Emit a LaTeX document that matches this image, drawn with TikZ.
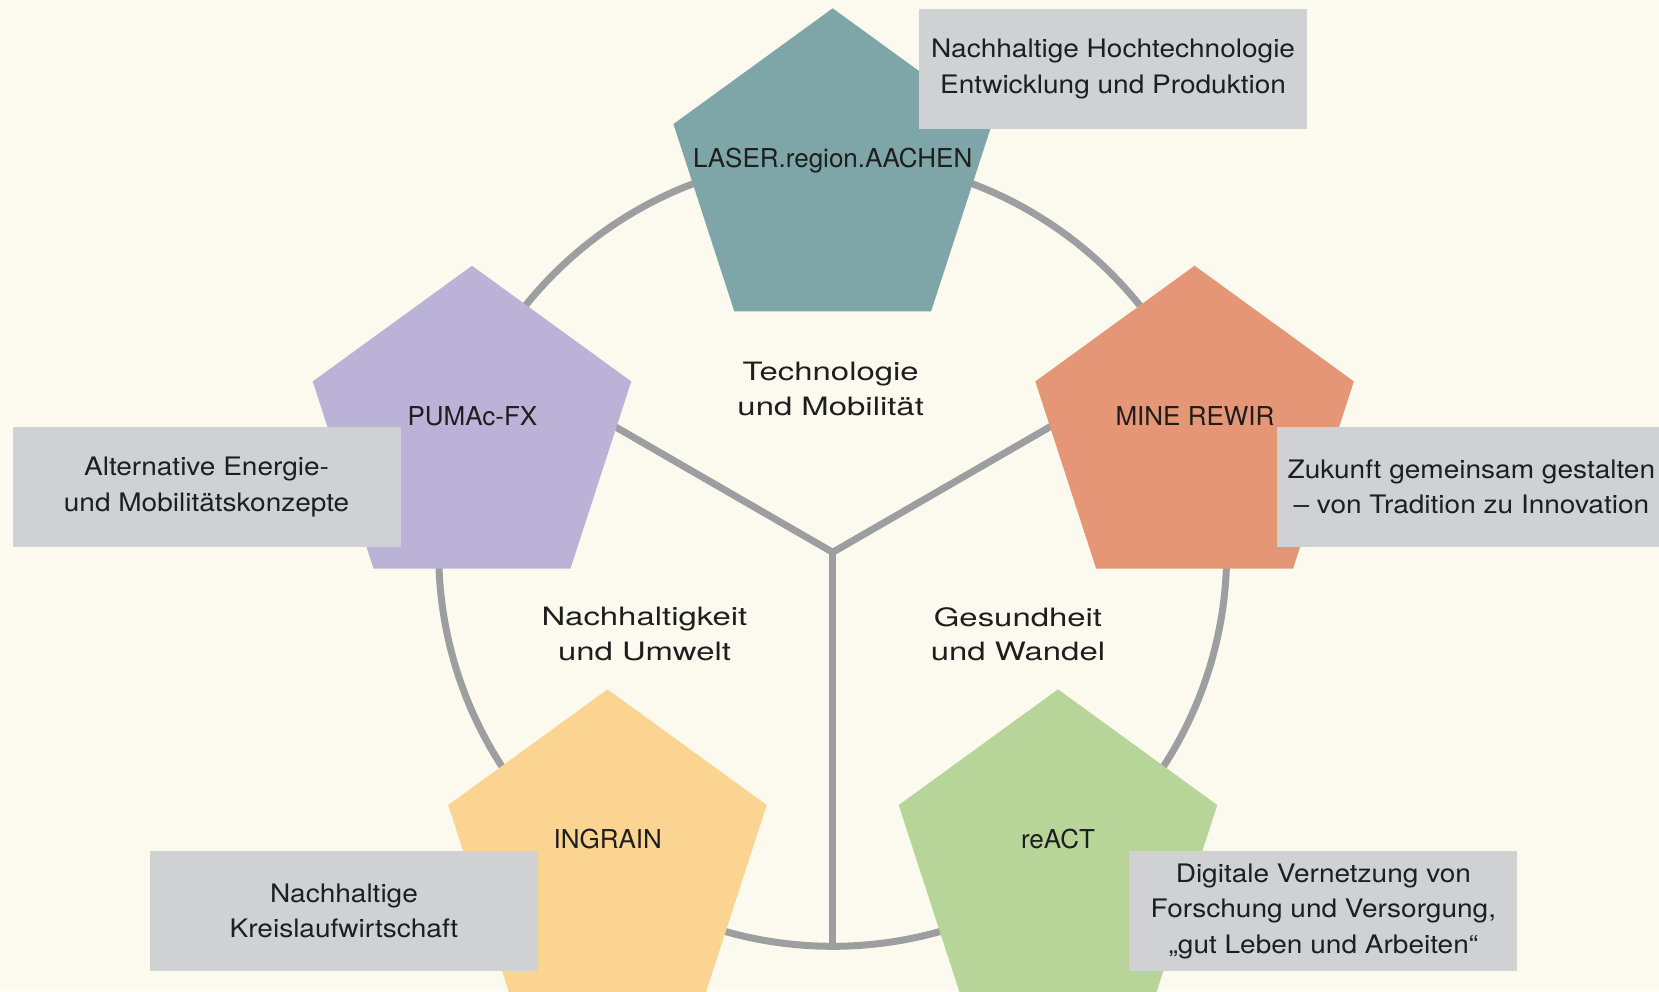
\documentclass[tikz,border=0pt]{standalone}
\usepackage{fontspec}
\setmainfont{TeX Gyre Heros}
\newfontfamily\boxfont[FakeStretch=1.1]{TeX Gyre Heros}
\newfontfamily\areafont[FakeStretch=1.3]{TeX Gyre Heros}
\usetikzlibrary{shapes.geometric}

\definecolor{bgCream}{HTML}{FCFAEE}
\definecolor{ringGray}{HTML}{9D9E9F}
\definecolor{boxGray}{HTML}{D0D1D3}
\definecolor{txtDark}{HTML}{1E1E1E}
\definecolor{laserTeal}{HTML}{7EA6A8}
\definecolor{pumacLilac}{HTML}{BAB3D7}
\definecolor{mineSalmon}{HTML}{E59677}
\definecolor{ingrainYellow}{HTML}{FCD491}
\definecolor{reactGreen}{HTML}{B7D598}

\begin{document}
\begin{tikzpicture}[
    x=0.02cm, y=0.02cm,
    ring/.style={draw=ringGray, line width=0.14cm},
    spoke/.style={draw=ringGray, line width=0.14cm},
    pent/.style={regular polygon, regular polygon sides=5,
    minimum size=6.7cm, inner sep=0pt, outer sep=0pt},
    project/.style={anchor=base, text=txtDark,
    font=\fontsize{14.8}{18}\selectfont},
    infobox/.style={fill=boxGray, minimum width=7.76cm,
    minimum height=2.4cm, inner sep=0pt, align=center, text=txtDark,
    font=\boxfont\fontsize{14.5}{20.2}\selectfont},
    area/.style={align=center, text=txtDark,
    font=\areafont\fontsize{14.4}{19.7}\selectfont}
    ]

\useasboundingbox (-832.7,-438.7) rectangle (826.3,552.3);
\fill[bgCream] (-832.7,-438.7) rectangle (826.3,552.3);

\coordinate (hub) at (0,0);
\coordinate (spokeW) at (150:394);
\coordinate (spokeE) at (30:394);
\coordinate (spokeS) at (270:394);

\draw[ring] (hub) circle (394);

\draw[spoke] (spokeW) -- (hub) -- (spokeE);
\draw[spoke] (hub) -- (spokeS);

\node[pent, fill=laserTeal] (laser) at (0,376.5) {};
\node[pent, fill=pumacLilac] (pumac) at (-360.7,119.1) {};
\node[pent, fill=mineSalmon] (mine) at (361.9,119.1) {};
\node[pent, fill=ingrainYellow] (ingrain) at (-225.2,-304.5) {};
\node[pent, fill=reactGreen] (react) at (225.3,-304.5) {};

\node[infobox] (laserInfo) at (280.4,483.3)
    {Nachhaltige Hochtechnologie\\Entwicklung und Produktion};
\node[infobox] (pumacInfo) at (-626.1,65.1)
    {Alternative Energie-\\und Mobilitätskonzepte};
\node[infobox] (mineInfo) at (638.7,65.3)
    {Zukunft gemeinsam gestalten\\– von Tradition zu Innovation};
\node[infobox] (ingrainInfo) at (-488.7,-358.7)
    {Nachhaltige\\Kreislaufwirtschaft};
\node[infobox] (reactInfo) at (490.7,-358.7)
    {Digitale Vernetzung von\\Forschung und Versorgung,\\„gut Leben und Arbeiten“};

\node[project] (laserName) at (0,384.5) {LASER.region.AACHEN};
\node[project] (pumacName) at (-360.3,127.3) {PUMAc-FX};
\node[project] (mineName) at (362.3,127.3) {MINE REWIR};
\node[project] (ingrainName) at (-224.9,-296) {INGRAIN};
\node[project] (reactName) at (225.3,-296) {reACT};

\node[area] (techArea) at (-2,163.6) {Technologie\\und Mobilität};
\node[area] (sustArea) at (-188.2,-82) {Nachhaltigkeit\\und Umwelt};
\node[area] (healthArea) at (185.3,-82) {Gesundheit\\und Wandel};

\end{tikzpicture}
\end{document}
